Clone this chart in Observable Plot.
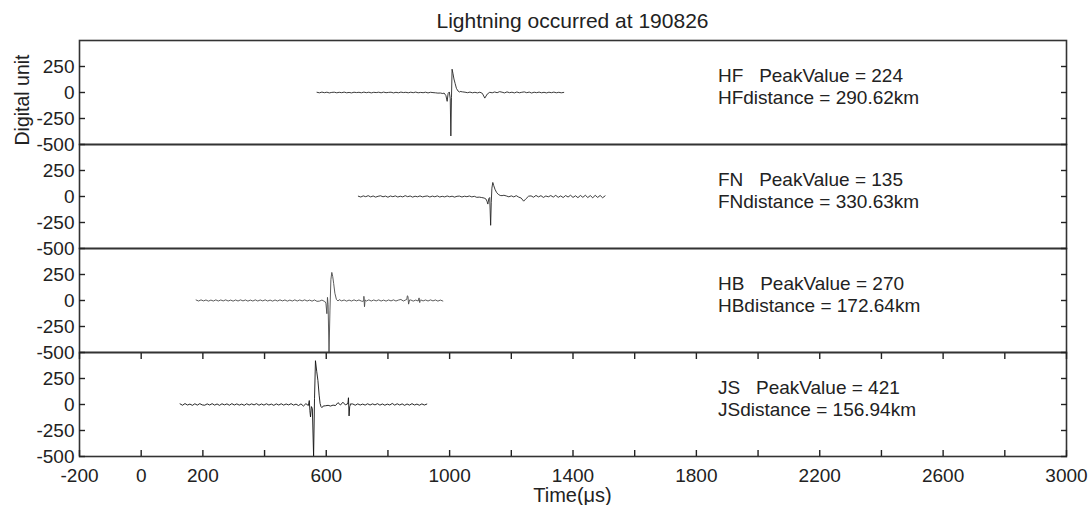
<!DOCTYPE html>
<html><head><meta charset="utf-8">
<script src="https://cdn.jsdelivr.net/npm/d3@7"></script>
<script src="https://cdn.jsdelivr.net/npm/@observablehq/plot@0.6"></script>
<style>
body{margin:0;background:#fff;}
#wrap{position:relative;width:1091px;height:505px;font-family:"Liberation Sans",Arial,sans-serif;color:#222;}
#title{position:absolute;left:79px;width:987px;top:9px;text-align:center;font-size:21px;line-height:24px;}
#ylab{position:absolute;left:22px;top:100px;transform:translate(-50%,-50%) rotate(-90deg);font-size:19.5px;white-space:nowrap;}
#xlab{position:absolute;left:79px;width:987px;top:486px;text-align:center;font-size:20px;line-height:18px;}
svg text{white-space:pre;}
</style></head><body>
<div id="wrap"><div id="chart"></div><div id="title">Lightning occurred at 190826</div><div id="ylab">Digital unit</div><div id="xlab">Time(μs)</div></div>
<script>
// ---- data ----
const stations = ["HF", "FN", "HB", "JS"];
const peakValues = [224, 135, 270, 421];
const distancesKm = [290.62, 330.63, 172.64, 156.94];
const traceStart = [570, 704, 178, 126];   // µs, first sample of each trace
const noiseStep = 8;                        // µs between baseline samples
const burstWindow = [[982, 1032], [1116, 1172], [596, 640], [540, 592]];

const hfNoise = [2,-3,4,-2,3,-4,1,3,-3,2, -2,4,-3,1,-4,3,-1,2,-3,4, -2,3,-4,2,-1,3,-3,4,-2,1, 3,-4,2,-3,4,-1,2,-3,3,-2, 4,-3,1,-2,3,-4,2,-1,-3,-6, -5,-10,0,0,0,0,0,0,10,6, 3,-2,4,-3,2,-4,3,-8,-54,-15, 2,-3,5,-2,8,3,-4,6,-2,3, -4,5,-3,2,6,-2,4,-5,3,-2, 4,-3,2,-4,3,-2,4,-3,2,-3,1];
const fnNoise = [3,-5,6,-2,8,-4,5,-6,2,7, -3,4,-7,5,-2,6,-5,3,-4,8, -2,5,-6,3,-3,6,-4,2,5,-5, 4,-3,6,-5,2,-4,5,-3,3,-6, 2,4,-5,3,-2,5,-4,2,-8,-6, -10,-15,0,0,0,0,0,0,0,12, 5,-3,6,-4,8,-6,-15,-45,-20,3, 6,-7,10,-4,8,-9,5,-3,9,-6, 11,-8,6,-10,9,-5,12,-9,7,-11, 10,-8,12,-10,9,-12,11,-9,10,-12,6];
const hbNoise = [5,-5,6,-4,5,-6,4,-5,6,-5, 5,-4,6,-5,4,-6,5,-5,6,-4, 5,-6,4,-5,6,-5,5,-4,6,-5, 4,-6,5,-5,6,-4,5,-6,4,-5, 6,-5,5,-4,6,-5,4,-6,5,-8, -6,4,-8,0,0,0,0,0,8,-4, 5,-6,4,-5,6,-4,5,-6,4,-5, 6,-5,5,-4,6,-5,4,-6,5,-4, 6,-5,4,10,-5,6,-4,5,-6,4, -5,6,-4,5,-5,6,-4,5,-6,4,-5];
const jsNoise = [6,-7,9,-5,4,-8,7,-6,8,-4, -7,6,-5,8,-6,5,-8,7,-4,6, -7,8,-5,6,-6,4,-8,7,-5,6, -4,8,-7,5,-6,7,-5,4,-8,6, -5,7,-6,5,-4,8,-6,4,-10,6, -15,8,0,0,0,0,0,0,0,-12, -8,-15,-6,-10,18,-5,22,-4,8,-6, 5,-7,6,-5,4,-6,7,-5,6,-4, 8,-6,5,-7,4,-5,10,-6,7,-5, 6,-8,5,-6,8,-5,4,-7,6,-5,4];

const hfBurstT = [982,988,992,995,999,1002,1004,1006,1008,1011,1014,1018,1022,1027,1032];
const hfBurstV = [-5,-30,-85,-10,5,-60,-418,-50,224,180,130,85,40,15,5];
const fnBurstT = [1118,1121,1124,1127,1130,1133,1135,1137,1140,1143,1147,1152,1158,1164,1170];
const fnBurstV = [-25,-45,-73,-20,-10,-277,-60,80,135,105,70,40,20,10,8];
const hbBurstT = [596,599,602,604,606,609,612,615,618,621,624,628,633,638, 720,722,724,726, 861,863,865,867,870, 899,901,903,905];
const hbBurstV = [-10,-30,-127,30,-40,-500,-100,200,270,230,165,70,10,-5, -8,40,-60,5, 10,45,40,-35,5, 5,25,-20,3];
const jsBurstT = [542,545,547,549,552,555,559,562,565,569,573,577,580,583,586,590, 670,672,674,676,678];
const jsBurstV = [-10,38,-60,-120,-20,-40,-500,60,421,320,230,90,10,-20,-30,-15, 5,65,-110,-20,5];

const xTicks = [-200,0,200,400,600,800,1000,1200,1400,1600,1800,2000,2200,2400,2600,2800,3000];
const xTickLabels = [-200,0,200,600,1000,1400,1800,2200,2600,3000];
const yTicks = [-500,-250,0,250];

// ---- build table ----
const noises = [hfNoise, fnNoise, hbNoise, jsNoise];
const burstT = [hfBurstT, fnBurstT, hbBurstT, jsBurstT];
const burstV = [hfBurstV, fnBurstV, hbBurstV, jsBurstV];
const rows = [];
stations.forEach((st, i) => {
  const pts = [];
  const [w0, w1] = burstWindow[i];
  noises[i].forEach((v, k) => {
    const t = traceStart[i] + k * noiseStep;
    if (t < w0 || t > w1) pts.push({st, t, v});
  });
  burstT[i].forEach((t, k) => pts.push({st, t, v: burstV[i][k]}));
  pts.sort((a, b) => a.t - b.t);
  rows.push(...pts);
});
const annot = stations.map((st, i) => ({st, pv: peakValues[i], d: distancesKm[i]}));
const strokeFor = {HF: "#262626", FN: "#262626", HB: "#4a4a4a", JS: "#111111"};

const chart = Plot.plot({
  width: 1091, height: 505,
  marginTop: 39, marginBottom: 48, marginLeft: 79, marginRight: 25,
  style: {fontSize: "19px", fontFamily: "Liberation Sans, Arial, sans-serif", color: "#222", background: "transparent", overflow: "visible"},
  x: {domain: [-200, 3000]},
  y: {domain: [-500, 500]},
  fy: {domain: stations, axis: null, padding: 0},
  color: {type: "identity"},
  marks: [
    Plot.line(rows, {x: "t", y: "v", fy: "st", z: "st", stroke: d => strokeFor[d.st], strokeWidth: 0.9}),
    Plot.frame({stroke: "#333", strokeWidth: 1.6}),
    Plot.axisY({ticks: yTicks, tickSize: -6, tickPadding: 11, tickFormat: d => String(d), label: null, strokeWidth: 1.4}),
    Plot.axisY({anchor: "right", ticks: yTicks, tickSize: -6, tickFormat: () => "", label: null, strokeWidth: 1.4}),
    Plot.axisX({anchor: "bottom", ticks: xTicks, tickSize: -6, tickPadding: 18, strokeWidth: 1.4,
      tickFormat: d => xTickLabels.includes(d) ? String(d) : "", label: null}),
    Plot.axisX({anchor: "top", facetAnchor: "bottom", ticks: xTicks, tickSize: -6, tickFormat: () => "", label: null, strokeWidth: 1.4}),
    Plot.text(annot, {fy: "st", x: 1870, y: 65, textAnchor: "start", lineAnchor: "middle", lineHeight: 1.2, fill: "#222",
      text: d => `${d.st}   PeakValue = ${d.pv}\n${d.st}distance = ${d.d.toFixed(2)}km`})
  ]
});
document.getElementById("chart").appendChild(chart);
</script>
</body></html>
